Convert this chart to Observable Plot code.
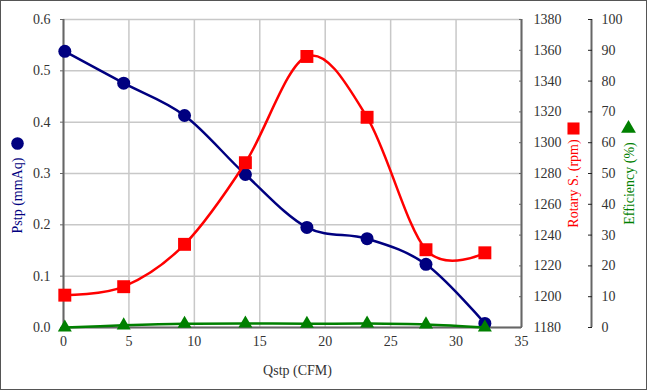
<!DOCTYPE html>
<html><head><meta charset="utf-8">
<script src="https://cdn.jsdelivr.net/npm/d3@7"></script>
<script src="https://cdn.jsdelivr.net/npm/@observablehq/plot@0.6"></script>
<style>
body{margin:0;background:#fff}
#chart{width:645px;height:388px;border:1px solid #555;overflow:hidden}
#chart svg text{font-family:"Liberation Serif","Times New Roman",serif !important}
</style></head><body><div id="chart"></div>
<script>
// Data
const qstp = [0.1, 4.6, 9.25, 13.9, 18.6, 23.2, 27.7, 32.2];          // Qstp (CFM)
const pstp = [0.538, 0.476, 0.413, 0.298, 0.195, 0.173, 0.123, 0.008]; // Pstp (mmAq)
const rpm  = [1201, 1206.5, 1234, 1287, 1356, 1316.5, 1230.5, 1228.5]; // Rotary S. (rpm)
const eff  = [0, 0.7, 1.2, 1.3, 1.2, 1.3, 1.0, 0];                      // Efficiency (%)

const xTicks = [0, 5, 10, 15, 20, 25, 30, 35];
const pTicks = [0, 0.1, 0.2, 0.3, 0.4, 0.5, 0.6];
const rpmTicks = [1180, 1200, 1220, 1240, 1260, 1280, 1300, 1320, 1340, 1360, 1380];
const effTicks = [0, 10, 20, 30, 40, 50, 60, 70, 80, 90, 100];

const Y_MAX = 0.6, RPM_MIN = 1180, RPM_MAX = 1380, EFF_MAX = 100;
const rpmToY = r => (r - RPM_MIN) / (RPM_MAX - RPM_MIN) * Y_MAX;
const yToRpm = y => String(Math.round(RPM_MIN + y / Y_MAX * (RPM_MAX - RPM_MIN)));
const effToY = e => e / EFF_MAX * Y_MAX;
const yToEff = y => String(Math.round(y / Y_MAX * EFF_MAX));

const rows = qstp.map((q, i) => ({q, p: pstp[i], r: rpmToY(rpm[i]), e: effToY(eff[i])}));

const NAVY = "#000080", RED = "#ff0000", GREEN = "#008000";
const GRID = "#c8c8c8", AXIS = "#666";
const SERIF = "Liberation Serif";

const title = (t, anchor, dx, dy, fill) => Plot.text([t], {frameAnchor: anchor, rotate: -90, dx, dy, fill, fontSize: 14, textAnchor: "middle", lineAnchor: "middle", fontFamily: SERIF});
const sym = (symbol, anchor, dx, dy, fill, r) => Plot.dot([null], {frameAnchor: anchor, dx, dy, fill, r, symbol});

const chart = Plot.plot({
  width: 645, height: 388,
  marginLeft: 62, marginRight: 125, marginTop: 18, marginBottom: 62,
  style: {fontFamily: SERIF, fontSize: "14px", color: "#333", background: "#fff"},
  x: {domain: [0, 35]},
  y: {domain: [0, Y_MAX]},
  marks: [
    Plot.gridY(pTicks, {stroke: GRID, strokeOpacity: 1, strokeWidth: 1.5}),
    Plot.gridX(xTicks, {stroke: GRID, strokeOpacity: 1, strokeWidth: 1.5}),
    Plot.ruleX([0], {stroke: AXIS, strokeWidth: 2}),
    Plot.ruleX([35], {stroke: AXIS, strokeWidth: 2}),
    Plot.ruleX([35], {stroke: AXIS, strokeWidth: 2, dx: 70}),
    Plot.ruleY([0], {stroke: AXIS, strokeWidth: 2}),
    Plot.axisY(pTicks, {anchor: "left", tickFormat: d3.format(".1f"), tickSize: 3, tickPadding: 10, label: null, stroke: AXIS, fontFamily: SERIF}),
    Plot.axisY(rpmTicks.map(rpmToY), {anchor: "right", tickFormat: yToRpm, tickSize: -3, tickPadding: 15, label: null, stroke: AXIS, fontFamily: SERIF}),
    Plot.axisY(effTicks.map(effToY), {anchor: "right", dx: 70, tickFormat: yToEff, tickSize: -4, tickPadding: 14, label: null, stroke: "#222", fontFamily: SERIF}),
    Plot.axisX(xTicks, {anchor: "bottom", tickSize: 0, tickPadding: 9, label: null, fontFamily: SERIF}),
    // series
    Plot.line(rows, {x: "q", y: "p", stroke: NAVY, strokeWidth: 2.5, curve: "cardinal"}),
    Plot.dot(rows, {x: "q", y: "p", r: 6.5, fill: NAVY}),
    Plot.line(rows, {x: "q", y: "r", stroke: RED, strokeWidth: 2.5, curve: "cardinal"}),
    Plot.dot(rows, {x: "q", y: "r", symbol: "square", r: 7.3, fill: RED}),
    Plot.line(rows, {x: "q", y: "e", stroke: GREEN, strokeWidth: 2.5, curve: "cardinal"}),
    Plot.dot(rows, {x: "q", y: "e", symbol: "triangle", r: 5.2, fill: GREEN}),
    // axis titles with legend symbols
    title("Pstp (mmAq)", "left", -46, 22, NAVY),
    sym("circle", "left", -46, -30, NAVY, 6.3),
    title("Rotary S. (rpm)", "right", 52, 10, RED),
    sym("square", "right", 52, -45, RED, 6.8),
    title("Efficiency (%)", "right", 108, 10, GREEN),
    sym("triangle", "right", 107, -45, GREEN, 5.5),
    Plot.text(["Qstp (CFM)"], {frameAnchor: "bottom", dx: 5, dy: 43, lineAnchor: "middle", textAnchor: "middle", fill: "#333", fontSize: 14, fontFamily: SERIF})
  ]
});
document.getElementById("chart").append(chart);
</script></body></html>
